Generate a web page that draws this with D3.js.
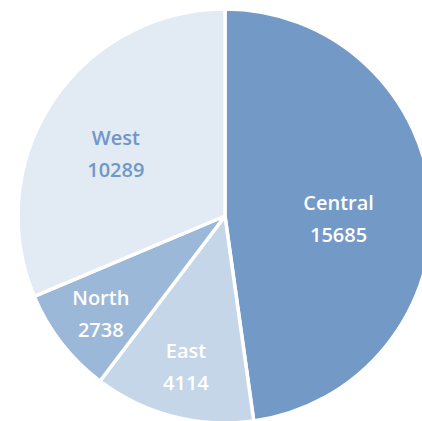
<!DOCTYPE html>
<html>
  <head>
    <script src="https://d3js.org/d3.v7.min.js"></script>
    <style>
      body { margin: 0; background: #fff; }
      svg { display: block; }
    </style>
  </head>
  <body>
    <script>

      // slices, clockwise from 12 o'clock
      var regions = ["Central", "East", "North", "West"];
      var sales = [15685, 4114, 2738, 10289];
      var colors = ["#7399c6", "#c6d6e9", "#9bb8d8", "#e2eaf4"];
      var labelColors = ["#ffffff", "#ffffff", "#ffffff", "#6f97c6"];

      var w = 422, h = 421;
      var cx = 225, cy = 216, radius = 207;

      // label distance from centre (fraction of radius) and small nudges
      var labelPos = {
        Central: {r: 0.55, dx: 0, dy: 10},
        East:    {r: 0.75, dx: 0, dy: 0},
        North:   {r: 0.76, dx: 0, dy: 0},
        West:    {r: 0.61, dx: -4, dy: 7}
      };

      var data = regions.map(function(d, i) {
        return {name: d, value: sales[i], color: colors[i], text: labelColors[i]};
      });

      var svg = d3.select("body")
        .append("svg")
        .attr("width", w)
        .attr("height", h);

      var g = svg.append("g")
        .attr("transform", `translate(${cx},${cy})`);

      var pie = d3.pie()
        .sort(null)
        .value(function(d) { return d.value; });

      var arc = d3.arc()
        .innerRadius(0)
        .outerRadius(radius);

      var arcs = pie(data);

      g.selectAll("path")
        .data(arcs)
        .enter()
        .append("path")
        .attr("d", arc)
        .attr("fill", function(d) { return d.data.color; })
        .attr("stroke", "#fff")
        .attr("stroke-width", 3.5)
        .attr("stroke-linejoin", "round");

      var labels = g.selectAll("text")
        .data(arcs)
        .enter()
        .append("text")
        .attr("transform", function(d) {
          var p = labelPos[d.data.name];
          var a = (d.startAngle + d.endAngle) / 2;
          var x = Math.sin(a) * radius * p.r + p.dx;
          var y = -Math.cos(a) * radius * p.r + p.dy;
          return `translate(${x},${y})`;
        })
        .attr("text-anchor", "middle")
        .style("font-family", "'Open Sans', sans-serif")
        .style("font-weight", 600)
        .style("font-size", "20px")
        .attr("fill", function(d) { return d.data.text; });

      labels.append("tspan")
        .attr("x", 0)
        .attr("y", -8)
        .text(function(d) { return d.data.name; });

      labels.append("tspan")
        .attr("x", 0)
        .attr("y", 24)
        .text(function(d) { return d.data.value; });

    </script>
  </body>
</html>
